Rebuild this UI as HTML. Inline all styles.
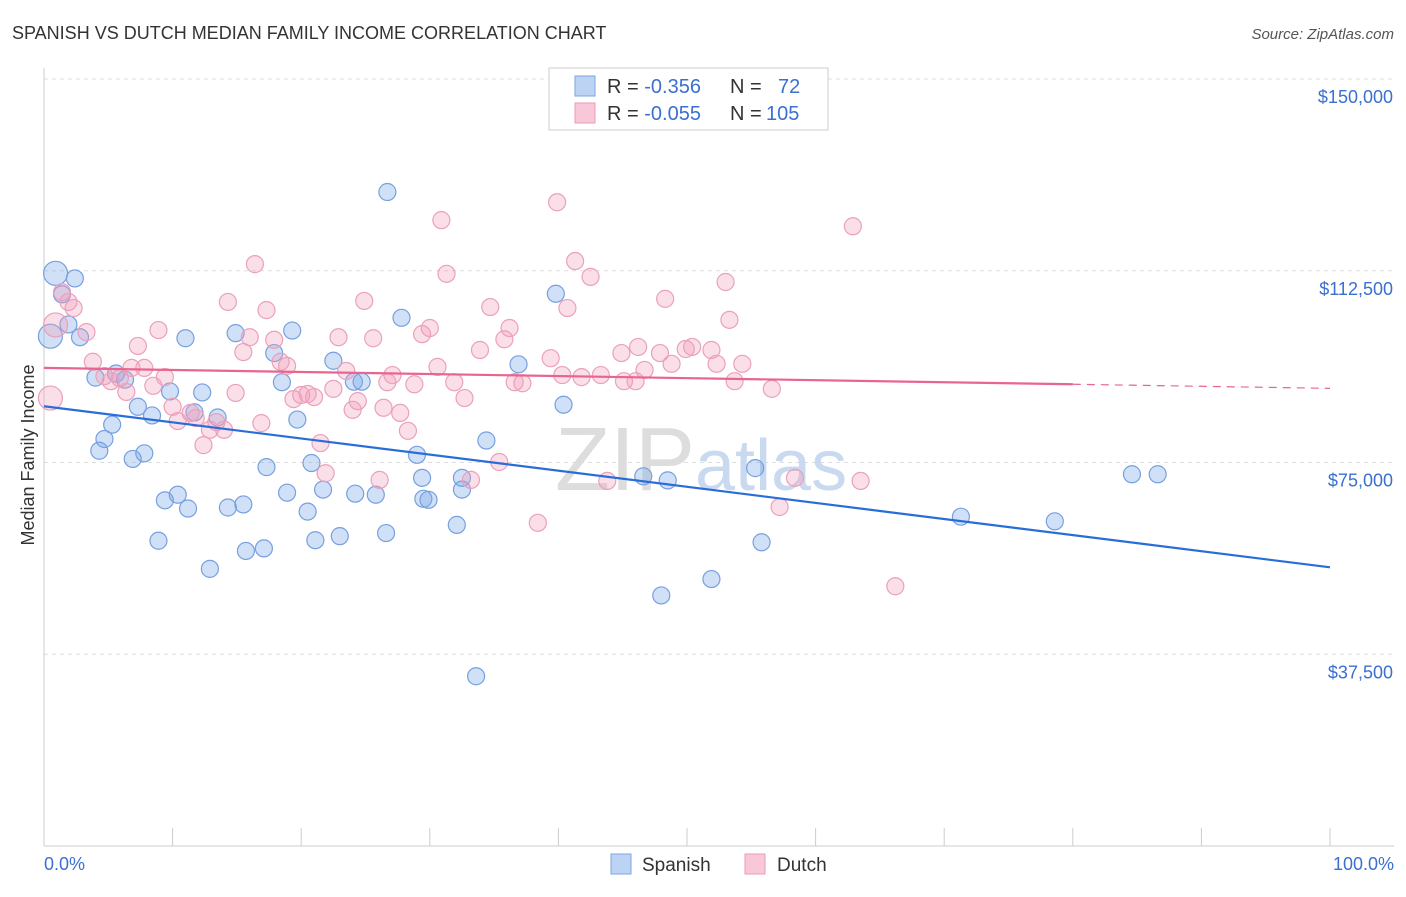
<!DOCTYPE html>
<html><head><meta charset="utf-8">
<style>
body{margin:0;background:#fff;font-family:"Liberation Sans",sans-serif;}
svg text{font-family:"Liberation Sans",sans-serif;}
</style></head>
<body>
<svg id="chart" width="1406" height="892">
<text x="12" y="39" font-size="18" fill="#333">SPANISH VS DUTCH MEDIAN FAMILY INCOME CORRELATION CHART</text>
<text x="1394" y="39" font-size="15" fill="#555" font-style="italic" text-anchor="end">Source: ZipAtlas.com</text>
<g id="grid"></g>
<g id="axes"></g>
<text x="555" y="490" font-size="90" fill="#ddd" font-family="Liberation Serif">ZIP<tspan fill="#c9d9ef" font-family="Liberation Sans" font-size="72">atlas</tspan></text>
<g id="pts"></g>
<g id="lines"></g>
<text transform="translate(34,455) rotate(-90)" font-size="18" fill="#333" text-anchor="middle">Median Family Income</text>
<text x="44" y="870" font-size="18" fill="#3b6fd1">0.0%</text>
<text x="1394" y="870" font-size="18" fill="#3b6fd1" text-anchor="end">100.0%</text>
<g>
<rect x="549" y="68" width="279" height="62" fill="#fff" stroke="#ccc"/>
<rect x="575" y="76" width="20" height="20" fill="#bcd3f3" stroke="#7aa4e4"/>
<rect x="575" y="103" width="20" height="20" fill="#f9c8d8" stroke="#ec9ab7"/>
<text x="607" y="93" font-size="20" fill="#333">R = <tspan fill="#3b6fd1">-0.356</tspan><tspan x="730">N = </tspan><tspan fill="#3b6fd1" x="778">72</tspan></text>
<text x="607" y="120" font-size="20" fill="#333">R = <tspan fill="#3b6fd1">-0.055</tspan><tspan x="730">N = </tspan><tspan fill="#3b6fd1" x="766">105</tspan></text>
</g>
<g>
<rect x="611" y="854" width="20" height="20" fill="#bcd3f3" stroke="#7aa4e4"/>
<text x="642" y="871" font-size="19" fill="#333">Spanish</text>
<rect x="745" y="854" width="20" height="20" fill="#f9c8d8" stroke="#ec9ab7"/>
<text x="777" y="871" font-size="19" fill="#333">Dutch</text>
</g>
</svg>
<script>
const yTicks=[37500,75000,112500,150000];
const yTickLabels=["$37,500","$75,000","$112,500","$150,000"];
const xTicks=[0,10,20,30,40,50,60,70,80,90,100];
const spanishX=[0.9,2.4,1.4,1.9,2.8,0.5,4,5.6,6.3,7.3,8.4,5.3,4.7,4.3,6.9,7.8,11,9.8,12.3,11.7,13.5,14.9,17.9,19.3,18.5,19.7,22.5,24.1,24.7,26.7,27.8,17.3,20.8,9.4,10.4,11.2,14.3,15.5,18.9,21.7,24.2,25.8,20.5,8.9,12.9,15.7,17.1,21.1,23,26.6,29,29.5,29.9,29.4,32.5,32.5,34.4,32.1,36.9,39.8,40.4,46.6,48.5,55.3,55.8,51.9,48,33.6,71.3,78.6,84.6,86.6];
const spanishY=[112000,111000,107900,102000,99500,99700,91600,92400,91200,85900,84200,82400,79600,77300,75700,76800,99300,88900,88700,84800,83800,100300,96400,100800,90700,83400,94900,90800,90800,127900,103300,74100,74900,67600,68700,66000,66200,66800,69100,69700,68900,68700,65400,59700,54200,57700,58200,59800,60600,61200,76500,67900,67700,72000,72000,69700,79300,62800,94200,108000,86300,72300,71500,73900,59400,52200,49000,33200,64400,63500,72700,72700];
const dutchX=[0.5,0.9,1.4,1.9,2.3,3.3,3.8,4.7,5.2,5.9,6.4,6.8,7.3,7.8,8.5,8.9,9.4,10,10.4,11.4,11.8,12.4,12.9,13.4,14,14.3,14.9,15.5,16,16.4,16.9,17.3,17.9,18.4,18.9,19.4,20,20.5,21,21.5,21.9,22.5,22.9,23.5,24,24.4,24.9,25.6,26.1,26.4,26.7,27.1,27.7,28.3,28.8,29.4,30,30.6,30.9,31.3,31.9,32.7,33.2,33.9,34.7,35.4,35.8,36.2,36.6,37.2,38.4,39.4,39.9,40.3,40.7,41.3,41.8,42.5,43.3,43.8,44.9,45.1,46,46.2,46.7,47.9,48.3,48.8,49.9,50.4,51.9,52.3,53,53.3,53.7,54.3,56.6,57.2,58.4,62.9,63.5,66.2];
const dutchY=[87600,101900,108300,106400,105200,100500,94700,91900,90900,91500,88800,93500,97800,93500,90000,100900,91700,85900,83100,84700,83700,78400,81400,82900,81400,106400,88600,96600,99500,113800,82700,104800,99000,94700,93900,87400,88200,88400,87800,78800,72900,89400,99500,92900,85300,87000,106600,99300,71600,85700,90700,92100,84700,81200,90300,100100,101300,93700,122400,111900,90700,87600,71600,97000,105400,75100,99100,101300,90700,90500,63200,95400,125900,92100,105200,114400,91700,111300,92100,71400,96400,90900,90900,97600,93100,96400,107000,94300,97200,97600,97000,94300,110300,102900,90900,94300,89400,66300,72000,121200,71400,50800];
const x0=44,x1=1330,yTop=79,yBot=846;
const xs=v=>x0+(x1-x0)*v/100;
const ys=v=>yBot-(yBot-yTop)*v/150000;
const NS="http://www.w3.org/2000/svg";
function mk(tag,attrs,parent){const e=document.createElementNS(NS,tag);for(const k in attrs)e.setAttribute(k,attrs[k]);parent.appendChild(e);return e;}
const grid=document.getElementById('grid'),axes=document.getElementById('axes');
yTicks.forEach((t,i)=>{
 const l=mk('line',{x1:x0,x2:1394,y1:ys(t),y2:ys(t),stroke:'#ddd','stroke-dasharray':'4,4'},grid);
 
 
 const tx=mk('text',{x:1393,y:ys(t)+24,'font-size':18,fill:'#3b6fd1','text-anchor':'end'},axes);
 tx.textContent=yTickLabels[i];
 
 
});
mk('line',{x1:x0,x2:x0,y1:68,y2:yBot,stroke:'#ccc'},axes);
mk('line',{x1:x0,x2:1394,y1:yBot,y2:yBot,stroke:'#ccc'},axes);
xTicks.forEach(t=>{
 const l=mk('line',{x1:xs(t),x2:xs(t),y1:yBot-18,y2:yBot,stroke:'#ccc'},axes);
 
 
});
const pts=document.getElementById('pts');


function drawPts(X,Y,fill,stroke,name){
 X.forEach((x,i)=>{
  const r=(x<1)?12:8.5;
  const c=mk('circle',{cx:xs(x),cy:ys(Y[i]),r:r,fill:fill,stroke:stroke,'stroke-width':1.2},pts);
  
  
 });
}
drawPts(spanishX,spanishY,'rgba(120,165,230,0.35)','#76a0e0','spanish-point');
drawPts(dutchX,dutchY,'rgba(242,155,185,0.32)','#eba0bb','dutch-point');
const lines=document.getElementById('lines');
const blueLine=[[0,86000],[100,54500]];
const pinkLine=[[0,93500],[80,90300],[100,89500]];
let bl=mk('line',{x1:xs(blueLine[0][0]),y1:ys(blueLine[0][1]),x2:xs(blueLine[1][0]),y2:ys(blueLine[1][1]),stroke:'#2a6dd9','stroke-width':2.2},lines);


let pl=mk('line',{x1:xs(pinkLine[0][0]),y1:ys(pinkLine[0][1]),x2:xs(pinkLine[1][0]),y2:ys(pinkLine[1][1]),stroke:'#e8658f','stroke-width':2.2},lines);


let pd=mk('line',{x1:xs(pinkLine[1][0]),y1:ys(pinkLine[1][1]),x2:xs(pinkLine[2][0]),y2:ys(pinkLine[2][1]),stroke:'#e8658f','stroke-width':1.2,'stroke-dasharray':'8,6'},lines);


</script>
</body></html>
